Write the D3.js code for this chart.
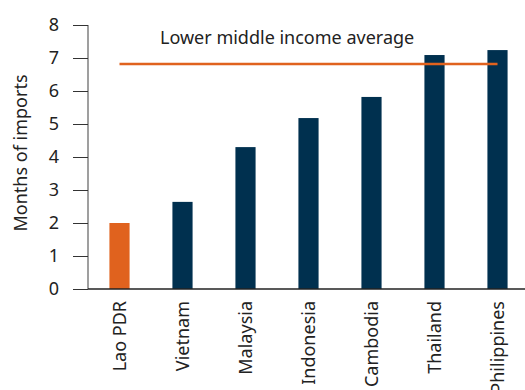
<!DOCTYPE html>
<html><head><meta charset="utf-8">
<script src="https://cdn.jsdelivr.net/npm/d3@7"></script>
<style>body{margin:0;background:#fff}svg{display:block}text{font-family:"Source Sans Pro","Noto Sans",sans-serif}</style>
</head><body><svg id="c" width="525" height="390"></svg>
<script>
const categories = ["Lao PDR","Vietnam","Malaysia","Indonesia","Cambodia","Thailand","Philippines"];
const values = [2.0, 2.64, 4.3, 5.18, 5.82, 7.09, 7.24];
const average = 6.82;
const yTicks = [0,1,2,3,4,5,6,7,8];
const highlight = "Lao PDR";

const svg = d3.select("#c");
const x = d3.scaleBand().domain(categories).range([88, 529]).paddingInner(0.68).paddingOuter(0.34);
const y = d3.scaleLinear().domain([0, 8]).range([289, 25]);
const fs = 18;
const font = "Noto Sans";

// y axis
const ya = svg.append("g").attr("transform","translate(88,0)")
  .call(d3.axisLeft(y).tickValues(yTicks).tickSize(15).tickPadding(14));
ya.select(".domain").attr("stroke","#7f7f7f").attr("stroke-width",1.5).attr("d","M0,25V289");
ya.selectAll(".tick line").attr("stroke","#333");
ya.selectAll(".tick text").attr("font-size",fs).attr("fill","#222").attr("font-family",font);

// bars
svg.append("g").selectAll("rect").data(categories).join("rect")
  .attr("x", d => x(d)).attr("width", x.bandwidth())
  .attr("y", (d,i) => y(values[i])).attr("height", (d,i) => y(0) - y(values[i]))
  .attr("fill", d => d === highlight ? "#E0621E" : "#00304F");

// x axis
const xa = svg.append("g").attr("transform","translate(0,289)")
  .call(d3.axisBottom(x).tickSize(0));
xa.select(".domain").attr("stroke","#222").attr("stroke-width",1.5).attr("d","M88,0H525");
xa.selectAll(".tick text").attr("font-size",fs).attr("fill","#222").attr("font-family",font)
  .attr("transform","rotate(-90)").attr("text-anchor","end").attr("dy","0.35em").attr("x",-12).attr("y",0);

// average line
svg.append("line")
  .attr("x1", x(categories[0]) + x.bandwidth()/2)
  .attr("x2", x(categories[categories.length-1]) + x.bandwidth()/2)
  .attr("y1", y(average)).attr("y2", y(average))
  .attr("stroke","#E0621E").attr("stroke-width",2.5);
svg.append("text").attr("x",160).attr("y",44).attr("font-size",fs).attr("fill","#222").attr("font-family",font)
  .text("Lower middle income average");

// y label
svg.append("text").attr("transform","translate(27,153) rotate(-90)").attr("text-anchor","middle")
  .attr("font-size",fs).attr("fill","#222").attr("font-family",font).text("Months of imports");
</script></body></html>
